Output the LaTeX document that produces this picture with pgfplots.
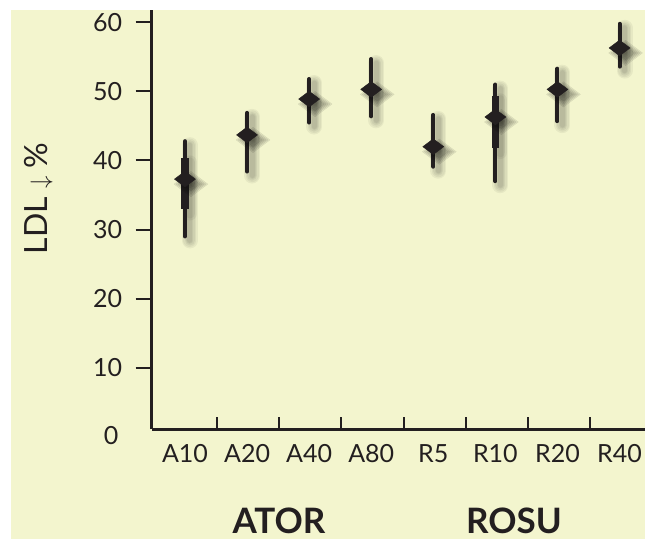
\documentclass[border=0pt]{standalone}
\usepackage{fontspec}
\setmainfont{Lato}
\usepackage{pgfplots}
\usepackage{pgfplotstable}
\pgfplotsset{compat=1.18}
\definecolor{cream}{RGB}{243,245,206}
\definecolor{ink}{RGB}{35,31,32}

\pgfplotstableread{
x y ep em
0 37.3 5.5 8.3
1 43.7 3.2 5.3
2 48.9 2.9 3.4
3 50.3 4.4 3.9
4 42.0 4.6 2.9
5 46.3 4.7 9.3
6 50.3 3.0 4.6
7 56.3 3.5 2.7
}\maindata
\pgfplotstableread{
x y ep em
0 37.3 3.0 4.4
5 46.3 3.0 4.5
}\thickdata

\pgfplotsset{
  shadowbar/.style={only marks, mark=none, forget plot,
    error bars/.cd, y dir=both, y explicit, error mark=none,
    error bar style={xshift=5pt, yshift=-4pt, line width=#1, line cap=round, black, opacity=0.05}},
  shadowmark/.style={only marks, mark=diamond*, mark size=#1, forget plot,
    mark options={xshift=6pt, yshift=-5pt, rotate=90, fill=black, draw=none, opacity=0.07}},
}

\begin{document}
\begin{tikzpicture}
\fill[white] (0pt,0pt) rectangle (645pt,539pt);
\fill[cream] (11pt,0pt) rectangle (645pt,529pt);
\begin{axis}[
  at={(151.7pt,110pt)}, anchor=south west,
  scale only axis, width=493.3pt, height=419pt,
  xmin=-0.536, xmax=7.41, ymin=1.1, ymax=61.8,
  axis lines=left,
  axis line style={-, line width=3pt, draw=ink},
  xtick={0,...,7},
  xticklabels={A10,A20,A40,A80,R5,R10,R20,R40},
  minor xtick={0.52,1.52,2.52,3.52,4.52,5.52,6.52},
  ytick={10,20,30,40,50,60},
  xtick align=inside, ytick align=outside,
  major tick length=16pt, minor tick length=12pt,
  every major x tick/.append style={draw=none},
  every minor x tick/.append style={draw=ink, line width=2pt},
  every major y tick/.append style={draw=ink, line width=2pt},
  tick label style={font=\fontsize{25}{30}\selectfont, text=ink},
  /pgf/number format/assume math mode=true,
  xticklabel style={yshift=-12pt},
  every y tick label/.append style={xshift=-10pt},
  ylabel={LDL~$\downarrow$~\%},
  ylabel style={at={(axis description cs:-0.229,0.55)}, anchor=center,
    font=\fontsize{32}{38}\selectfont, text=ink},
  clip=false,
]
% shadows
\addplot[shadowbar=16pt] table[x=x, y=y, y error plus=ep, y error minus=em] {\maindata};
\addplot[shadowbar=13pt] table[x=x, y=y, y error plus=ep, y error minus=em] {\maindata};
\addplot[shadowbar=10pt] table[x=x, y=y, y error plus=ep, y error minus=em] {\maindata};
\addplot[shadowbar=7pt] table[x=x, y=y, y error plus=ep, y error minus=em] {\maindata};
\addplot[shadowbar=5pt] table[x=x, y=y, y error plus=ep, y error minus=em] {\maindata};
\addplot[shadowbar=14pt] table[x=x, y=y, y error plus=ep, y error minus=em] {\thickdata};
\addplot[shadowbar=10pt] table[x=x, y=y, y error plus=ep, y error minus=em] {\thickdata};
\addplot[shadowmark=17pt] table[x=x, y=y] {\maindata};
\addplot[shadowmark=15pt] table[x=x, y=y] {\maindata};
\addplot[shadowmark=13pt] table[x=x, y=y] {\maindata};
\addplot[shadowmark=11pt] table[x=x, y=y] {\maindata};
\addplot[shadowmark=9pt] table[x=x, y=y] {\maindata};
% bars
\addplot[only marks, mark=none, forget plot,
  error bars/.cd, y dir=both, y explicit, error mark=none,
  error bar style={line width=4pt, ink, line cap=round}]
  table[x=x, y=y, y error plus=ep, y error minus=em] {\maindata};
\addplot[only marks, mark=none, forget plot,
  error bars/.cd, y dir=both, y explicit, error mark=none,
  error bar style={line width=7.5pt, ink}]
  table[x=x, y=y, y error plus=ep, y error minus=em] {\thickdata};
% diamonds
\addplot[only marks, mark=diamond*, mark size=10.5pt,
  mark options={rotate=90, fill=ink, draw=ink}]
  table[x=x, y=y] {\maindata};
\end{axis}
\node[anchor=base, font=\fontsize{25}{30}\selectfont, text=ink] at (111pt,95pt) {0};
\node[anchor=base, font=\bfseries\fontsize{35}{40}\selectfont, text=ink] at (279pt,6pt) {ATOR};
\node[anchor=base, font=\bfseries\fontsize{35}{40}\selectfont, text=ink] at (514pt,6pt) {ROSU};
\pgfresetboundingbox
\path[use as bounding box] (0pt,0pt) rectangle (645pt,539pt);
\end{tikzpicture}
\end{document}
